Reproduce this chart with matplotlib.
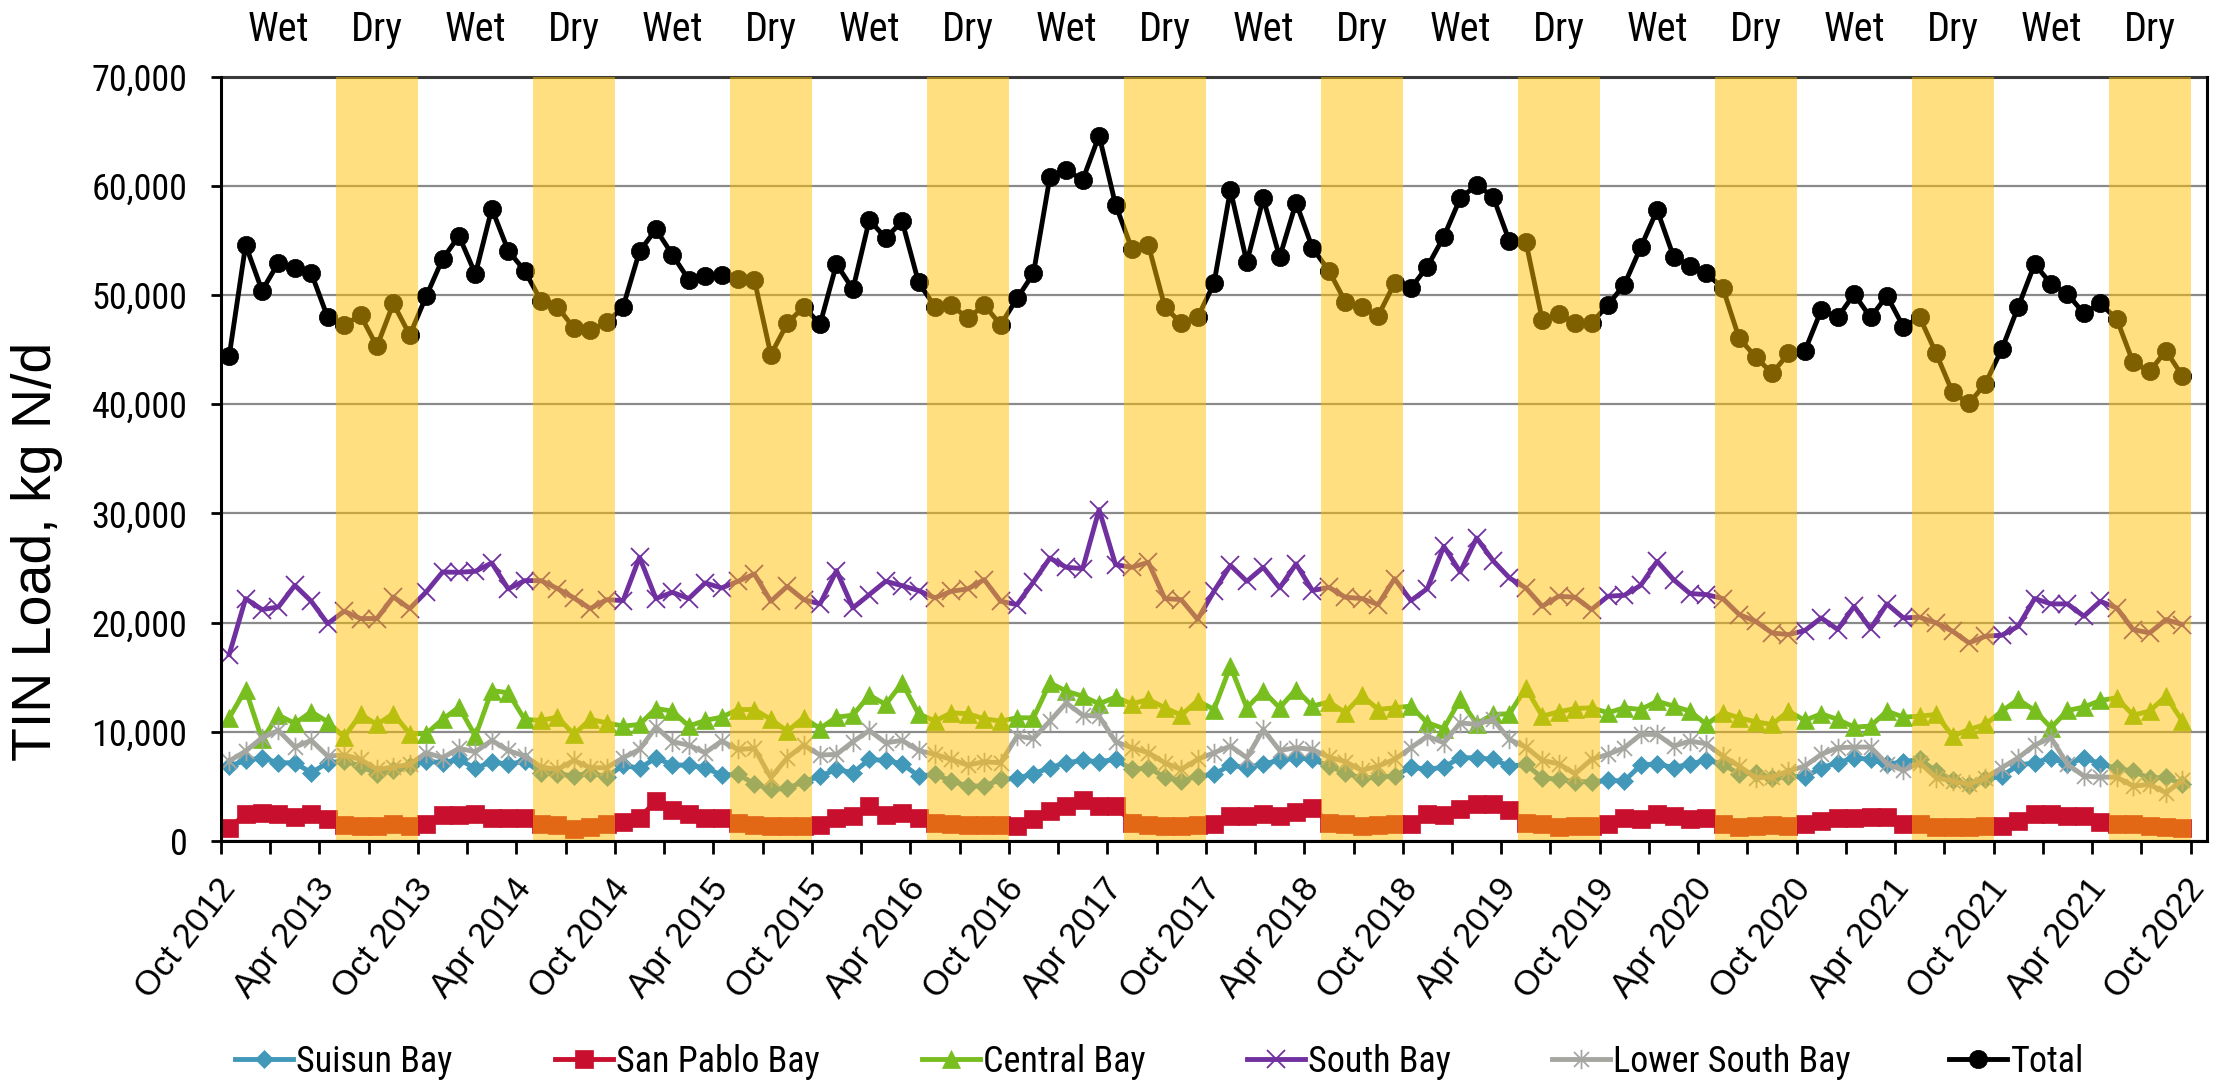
import os
import numpy as np
import matplotlib
matplotlib.use('Agg')
import matplotlib.pyplot as plt
from matplotlib import font_manager as fm
from matplotlib.path import Path
from matplotlib.ticker import FuncFormatter
import matplotlib.transforms as mtransforms

# ---------------- data ----------------
tick_labels = ["Oct 2012", "Apr 2013", "Oct 2013", "Apr 2014", "Oct 2014", "Apr 2015",
               "Oct 2015", "Apr 2016", "Oct 2016", "Apr 2017", "Oct 2017", "Apr 2018",
               "Oct 2018", "Apr 2019", "Oct 2019", "Apr 2020", "Oct 2020", "Apr 2021",
               "Oct 2021", "Apr 2021", "Oct 2022"]

season_labels = ["Wet", "Dry"] * 10

suisun = [6860, 7380, 7620, 7160, 7160, 6250, 7160, 7320, 6860, 6160,
          6460, 6860, 7320, 7160, 7470, 6650, 7260, 7010, 7320, 6250,
          6160, 5950, 6250, 5850, 6950, 6650, 7620, 6950, 6950, 6710,
          6040, 6100, 5240, 4730, 4820, 5430, 5950, 6550, 6250, 7470,
          7380, 7070, 5950, 6100, 5490, 5030, 5030, 5640, 5730, 6160,
          6710, 7160, 7380, 7260, 7470, 6550, 6710, 5850, 5490, 5950,
          6100, 6950, 6710, 7070, 7380, 7620, 7470, 6860, 6250, 5730,
          5850, 5950, 6770, 6550, 6770, 7620, 7620, 7470, 6860, 7010,
          5790, 5640, 5430, 5430, 5550, 5490, 6950, 7070, 6710, 7070,
          7380, 7070, 6100, 6250, 5730, 5950, 5850, 6710, 7160, 7620,
          7470, 7010, 7260, 7470, 6400, 5550, 5120, 5640, 5950, 6950,
          7160, 7620, 7010, 7620, 7070, 6650, 6400, 5730, 5850, 5180]

san_pablo = [1160, 2500, 2590, 2440, 2200, 2500, 1980, 1460, 1370, 1370,
             1590, 1400, 1590, 2380, 2380, 2500, 2070, 2130, 2070, 1590,
             1460, 1070, 1280, 1520, 1770, 2130, 3660, 2800, 2440, 2130,
             2070, 1680, 1460, 1370, 1370, 1370, 1430, 2130, 2290, 3200,
             2380, 2590, 2130, 1680, 1520, 1460, 1460, 1460, 1370, 1980,
             2740, 3200, 3720, 3200, 3200, 1680, 1460, 1370, 1370, 1500,
             1590, 2290, 2290, 2440, 2290, 2680, 3050, 1680, 1520, 1370,
             1460, 1520, 1520, 2500, 2380, 2900, 3350, 3410, 2800, 1680,
             1520, 1280, 1370, 1370, 1590, 2130, 1980, 2440, 2290, 1980,
             2070, 1590, 1280, 1370, 1460, 1370, 1520, 1830, 2070, 2130,
             2200, 2200, 1520, 1520, 1280, 1280, 1280, 1370, 1370, 1830,
             2440, 2440, 2290, 2290, 1770, 1520, 1520, 1370, 1280, 1220]

central = [11280, 13870, 9300, 11520, 10760, 11830, 10910, 9510, 11590, 10670,
           11650, 9820, 9820, 11130, 12260, 9600, 13780, 13570, 11130, 11040,
           11340, 9760, 11130, 10820, 10520, 10670, 12130, 11890, 10520, 11040,
           11340, 12040, 12040, 11130, 10060, 11280, 10300, 11340, 11520, 13350,
           12500, 14480, 11650, 10980, 11740, 11650, 11190, 10980, 11280, 11280,
           14480, 13720, 13260, 12560, 13170, 12560, 12960, 12200, 11520, 12850,
           12040, 16010, 12200, 13720, 12200, 13870, 12350, 12740, 11740, 13350,
           12040, 12200, 12350, 10820, 10300, 12960, 10730, 11590, 11650, 14020,
           11430, 11830, 12130, 12200, 11740, 12200, 12040, 12800, 12350, 11890,
           10670, 11740, 11280, 10910, 10670, 11890, 11040, 11650, 11130, 10430,
           10520, 11890, 11340, 11430, 11590, 9600, 10210, 10670, 11890, 12960,
           11950, 10370, 11950, 12260, 12870, 13110, 11520, 11890, 13260, 10980]

south = [17070, 22200, 21190, 21430, 23410, 21950, 19900, 21040, 20370, 20370,
         22350, 21280, 22800, 24630, 24600, 24700, 25460, 23080, 23840, 23840,
         23110, 22260, 21280, 22100, 22010, 25980, 22200, 22770, 22200, 23630,
         23170, 23780, 24450, 21950, 23320, 22100, 21710, 24760, 21340, 22560,
         23780, 23380, 22930, 22260, 22870, 23080, 23930, 21950, 21650, 23720,
         25910, 25060, 24940, 30340, 25300, 25060, 25520, 22200, 22100, 20300,
         22870, 25240, 23780, 25060, 23170, 25370, 22930, 23230, 22320, 22200,
         21650, 24020, 22010, 23110, 26980, 24630, 27740, 25670, 24090, 23170,
         21490, 22410, 22320, 21190, 22410, 22500, 23410, 25610, 23930, 22660,
         22560, 22200, 20730, 20120, 19050, 18900, 19270, 20430, 19360, 21490,
         19450, 21710, 20430, 20490, 19970, 19210, 18140, 18750, 18840, 19660,
         22200, 21710, 21710, 20580, 21950, 21340, 19360, 19050, 20270, 19820]

lower_south = [7320, 8230, 9450, 10120, 8600, 9210, 7770, 7870, 7470, 6550,
               6770, 7010, 8080, 7620, 8480, 8170, 9210, 8290, 7770, 6770,
               6550, 7380, 6710, 6710, 7620, 8380, 10430, 9090, 8780, 8080,
               9150, 8380, 8480, 5790, 7620, 8780, 7870, 7930, 9090, 10120,
               8990, 9210, 8290, 7930, 7470, 6950, 7260, 7160, 9600, 9390,
               10980, 12650, 11520, 11430, 9090, 8540, 8080, 7160, 6550, 7470,
               8080, 8690, 7620, 10210, 8290, 8540, 8380, 7680, 7260, 6460,
               6860, 7470, 8540, 9600, 8990, 10820, 10670, 11130, 9300, 8600,
               7380, 7070, 6160, 7470, 7930, 8540, 9760, 9760, 8690, 9150,
               8900, 7770, 6860, 5790, 5850, 6400, 6860, 7930, 8540, 8600,
               8600, 7070, 6460, 7160, 5790, 5490, 5180, 5790, 6710, 7620,
               8780, 9450, 7010, 5950, 5850, 5850, 5030, 5180, 4420, 5550]

total = [44400, 54570, 50400, 52950, 52430, 52000, 47940, 47240, 48150, 45280,
         49220, 46320, 49870, 53290, 55400, 51910, 57900, 54050, 52220, 49470,
         48920, 46960, 46780, 47480, 48920, 53990, 56010, 53680, 51390, 51730,
         51850, 51450, 51360, 44520, 47390, 48920, 47330, 52830, 50510, 56860,
         55210, 56740, 51150, 48920, 49070, 47850, 49070, 47270, 49680, 51970,
         60770, 61450, 60530, 64590, 58270, 54200, 54570, 48920, 47390, 47940,
         51060, 59620, 52980, 58840, 53440, 58450, 54290, 52220, 49380, 48860,
         48090, 51060, 50640, 52590, 55330, 58840, 60070, 59000, 54910, 54880,
         47700, 48250, 47450, 47420, 49100, 50940, 54360, 57780, 53500, 52680,
         51970, 50630, 46020, 44340, 42810, 44640, 44890, 48610, 47940, 50080,
         47940, 49920, 47080, 47940, 44640, 41070, 40060, 41890, 45040, 48920,
         52830, 51000, 50080, 48310, 49220, 47790, 43820, 42990, 44890, 42590]

series_names = ["Suisun Bay", "San Pablo Bay", "Central Bay", "South Bay",
                "Lower South Bay", "Total"]

# ---------------- fonts ----------------
names = {f.name for f in fm.fontManager.ttflist}
REG = 'Liberation Sans' if 'Liberation Sans' in names else 'DejaVu Sans'


def pick_narrow():
    order = ['Liberation Sans Narrow', 'Arial Narrow', 'Nimbus Sans Narrow',
             'Roboto Condensed', 'Noto Sans', 'Open Sans', 'Roboto']
    best = None
    bad = ('bold', 'light', 'italic', 'thin', 'black', 'semi', 'extra', 'medium',
           'oblique', 'ultra', 'heavy')
    for f in fm.fontManager.ttflist:
        base = os.path.basename(f.fname).lower()
        nm = f.name
        low = nm.lower()
        st = f.stretch
        cond = ('narrow' in base or 'condensed' in base or 'narrow' in low or
                'condensed' in low or st in ('condensed', 'semi-condensed') or
                (isinstance(st, (int, float)) and st < 500))
        if not cond or f.style != 'normal':
            continue
        w = f.weight
        if isinstance(w, str):
            w = 700 if 'bold' in w else 400
        if w != 400 or any(b in base for b in bad):
            continue
        if 'mono' in low or 'cjk' in low or 'dejavu' in low:
            continue
        rank = next((i for i, o in enumerate(order) if nm.startswith(o)), None)
        if rank is None:
            continue
        if best is None or rank < best[0]:
            best = (rank, f.fname)
    return best[1] if best else None


narrow_file = pick_narrow()


def nfont(size):
    if narrow_file:
        return fm.FontProperties(fname=narrow_file, size=size)
    return fm.FontProperties(family=[REG, 'DejaVu Sans'], size=size * 0.86)


plt.rcParams['font.family'] = [REG, 'DejaVu Sans']

W, H = 2231, 1083
fig = plt.figure(figsize=(W / 100, H / 100), dpi=100)
L, R, T, B = 221, 2207, 76.5, 841
ax = fig.add_axes([L / W, 1 - B / H, (R - L) / W, (B - T) / H])

n_cat = 121
x = np.arange(len(total))

C_SUI = '#4198B9'
C_SPB = '#C8102E'
C_CEN = '#77BE1E'
C_SOU = '#7030A0'
C_LSB = '#A6A6A1'
C_TOT = '#000000'

ast = Path([(-1, -1), (1, 1), (-1, 1), (1, -1), (0, -1.3), (0, 1.3)],
           [Path.MOVETO, Path.LINETO, Path.MOVETO, Path.LINETO, Path.MOVETO, Path.LINETO])

LW = 3.5
specs = [
    (suisun, dict(color=C_SUI, marker='D', ms=9.6, mfc=C_SUI, mec=C_SUI, mew=0.5)),
    (san_pablo, dict(color=C_SPB, marker='s', ms=13.5, mfc=C_SPB, mec=C_SPB, mew=0.5)),
    (central, dict(color=C_CEN, marker='^', ms=12.5, mfc=C_CEN, mec=C_CEN, mew=0.5)),
    (south, dict(color=C_SOU, marker='x', ms=13, mec=C_SOU, mew=1.3)),
    (lower_south, dict(color=C_LSB, marker=ast, ms=14, mfc='none', mec=C_LSB, mew=1.3)),
    (total, dict(color=C_TOT, marker='o', ms=13.2, mfc=C_TOT, mec=C_TOT, mew=0.5)),
]
handles = []
for (vals, st), name in zip(specs, series_names):
    ln, = ax.plot(x, vals, lw=LW, solid_joinstyle='round', label=name, zorder=2, **st)
    handles.append(ln)

# dry-season shading (May-Sep), drawn over the lines with transparency
for k in range(10):
    ax.axvspan(6.5 + 12 * k, 11.5 + 12 * k, color='#FFC000', alpha=0.5, lw=0, zorder=3)

ax.set_xlim(-0.5, n_cat - 0.5)
ax.set_ylim(0, 70000)

ax.set_axisbelow(True)
ax.yaxis.grid(True, color='#8a8a8a', lw=1.6)
ax.set_yticks(np.arange(0, 70001, 10000))
ax.yaxis.set_major_formatter(FuncFormatter(lambda v, p: f"{int(v):,}"))
ax.tick_params(axis='y', length=7.2, width=2.0, pad=17, direction='out')
for lab in ax.get_yticklabels():
    lab.set_fontproperties(nfont(26))

# x ticks: marks every 3 categories (boundaries), labels every 6 categories (centres)
ax.set_xticks(np.arange(-0.5, 120, 3))
ax.set_xticklabels([])
ax.set_xticks(np.arange(0, n_cat, 6), tick_labels, minor=True)
ax.tick_params(axis='x', which='major', length=9.4, width=2.0, direction='out')
ax.tick_params(axis='x', which='minor', length=0, pad=30)
for lab in ax.get_xticklabels(minor=True):
    lab.set_rotation(52)
    lab.set_ha('right')
    lab.set_va('center')
    lab.set_rotation_mode('anchor')
    lab.set_fontsize(25)
    lab.set_fontfamily([REG, 'DejaVu Sans'])

for s in ['left', 'bottom', 'right']:
    ax.spines[s].set_color('black')
    ax.spines[s].set_linewidth(2.2)
    ax.spines[s].set_zorder(4)
ax.spines['top'].set_color('#3a3a3a')
ax.spines['top'].set_linewidth(2.2)
ax.spines['top'].set_zorder(2.5)

fig.text(37 / W, 1 - 551 / H, "TIN Load, kg N/d", rotation=90, ha='center', va='center',
         fontsize=40, family=[REG, 'DejaVu Sans'])

trans = mtransforms.blended_transform_factory(ax.transData, fig.transFigure)
for k, lab in enumerate(season_labels):
    ax.text(3 + 6 * k, 1 - 41 / H, lab, transform=trans, ha='center', va='baseline',
            fontproperties=nfont(29), clip_on=False)

leg_x = [235, 555, 922, 1247, 1552, 1949]
for h, name, lx in zip(handles, series_names, leg_x):
    fig.legend(handles=[h], labels=[name], loc='center left',
               bbox_to_anchor=(lx / W, 1 - 1062 / H), frameon=False,
               prop=nfont(26), handlelength=1.6, handletextpad=0.1,
               borderpad=0, borderaxespad=0)

fig.savefig('out.png', dpi=100)
